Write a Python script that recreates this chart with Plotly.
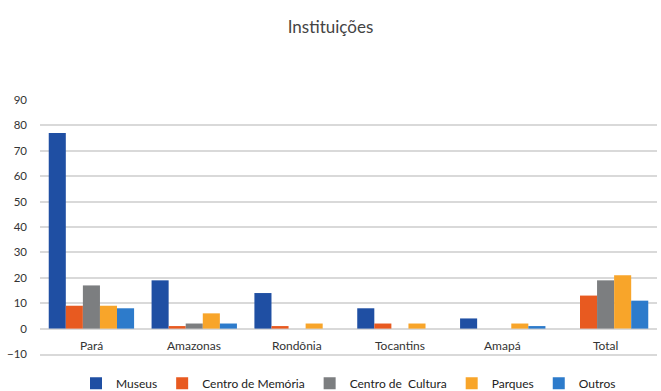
import plotly.graph_objects as go

categories = ["Pará", "Amazonas", "Rondônia", "Tocantins", "Amapá", "Total"]
museus = [77, 19, 14, 8, 4, None]
centro_memoria = [9, 1, 1, 2, 0, 13]
centro_cultura = [17, 2, 0, 0, 0, 19]
parques = [9, 6, 2, 2, 2, 21]
outros = [8, 2, 0, 0, 1, 11]

series = [
    ("Museus", museus, "#1F4FA3"),
    ("Centro de Memória", centro_memoria, "#E85A20"),
    ("Centro de  Cultura", centro_cultura, "#7C7E80"),
    ("Parques", parques, "#F8A52A"),
    ("Outros", outros, "#2D7BCB"),
]

fig = go.Figure()
for name, vals, color in series:
    fig.add_trace(go.Bar(x=categories, y=vals, name=name, marker_color=color,
                         marker_line_width=0))

font_family = "Lato, 'Open Sans', sans-serif"
fig.update_layout(
    width=661, height=391,
    margin=dict(l=40, r=4, t=100, b=37, autoexpand=False),
    paper_bgcolor="white", plot_bgcolor="white",
    barmode="group", bargap=0.17, bargroupgap=0,
    title=dict(text="Instituições", x=0.5, xanchor="center", y=0.93, yanchor="middle",
               font=dict(family=font_family, size=17, color="#444")),
    font=dict(family=font_family, size=11, color="#333"),
    legend=dict(orientation="h", x=0.5, xanchor="center", y=-0.115, yanchor="middle",
                font=dict(size=12, color="#222"), itemwidth=30, traceorder="normal"),
    showlegend=True,
)
for c in categories:
    fig.add_annotation(x=c, y=-6.6, xref="x", yref="y", text=c, showarrow=False,
                       font=dict(size=12, color="#333", family=font_family),
                       xanchor="center", yanchor="middle")

fig.update_yaxes(range=[-10, 90], dtick=10, tick0=0, showgrid=True, gridcolor="#D9D9D9",
                 gridwidth=1.5, zeroline=False, ticklabelstandoff=12,
                 tickfont=dict(size=11.5, color="#333"))
fig.update_xaxes(showgrid=False, showticklabels=False, showline=True,
                 linecolor="#D9D9D9", linewidth=1.5)

fig.write_html("out.html")
